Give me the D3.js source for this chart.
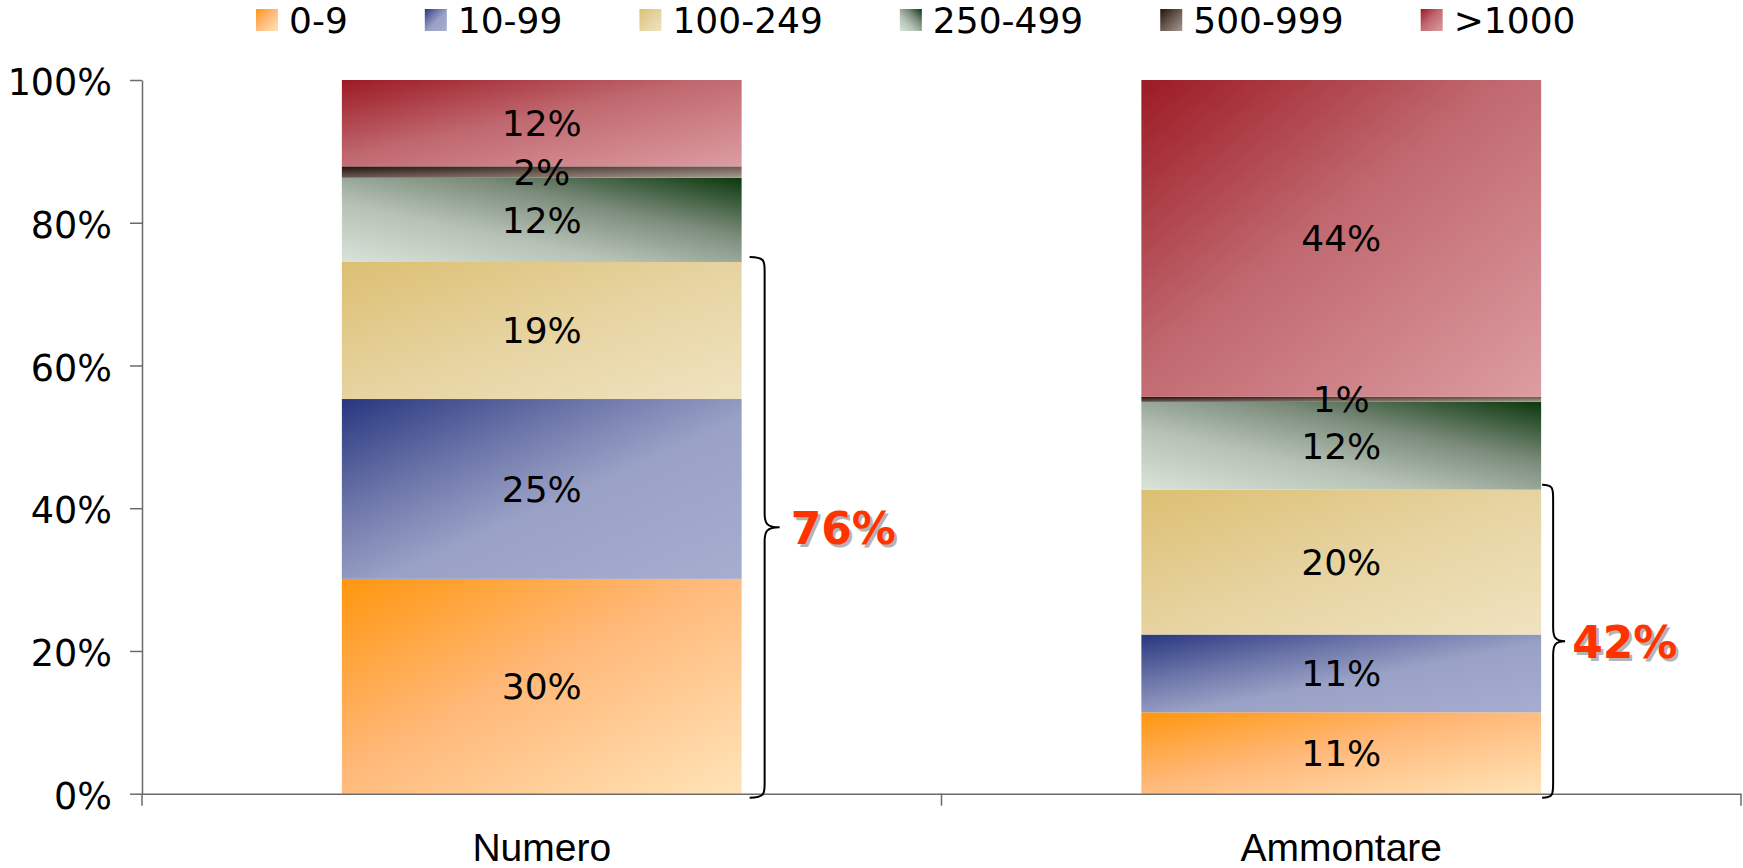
<!DOCTYPE html>
<html>
<head>
<meta charset="utf-8">
<script src="https://cdn.jsdelivr.net/npm/d3@7/dist/d3.min.js"></script>
<style>
  html, body { margin: 0; padding: 0; background: #fff; }
  svg { display: block; }
</style>
</head>
<body>
<svg id="chart" width="1743" height="868"></svg>
<script>
// ---------- data ----------
const categories = ["Numero", "Ammontare"];
const seriesNames = ["0-9", "10-99", "100-249", "250-499", "500-999", ">1000"];
const numeroValues = [30.1, 25.2, 19.2, 11.8, 1.6, 12.1];
const ammontareValues = [11.4, 10.9, 20.3, 12.3, 0.7, 44.4];
const yTicks = [0, 20, 40, 60, 80, 100];
const braceLabels = ["76%", "42%"];
const braceSeriesCount = 3; // brace spans the first three classes

// ---------- build table ----------
const valuesByCat = [numeroValues, ammontareValues];
const rows = categories.map((c, i) => {
  const r = { cat: c };
  seriesNames.forEach((s, j) => r[s] = valuesByCat[i][j]);
  return r;
});
const stacked = d3.stack().keys(seriesNames)(rows);

// ---------- layout ----------
const svg = d3.select("#chart");
const plotLeft = 142, plotRight = 1741, plotTop = 80, plotBottom = 793.7;

const x = d3.scaleBand().domain(categories).range([plotLeft, plotRight])
  .paddingInner(0.5).paddingOuter(0.25);
const y = d3.scaleLinear().domain([0, 100]).range([plotBottom, plotTop]);

// ---------- gradients ----------
const gradDefs = [
  { dir: [0, 0, 1, 1], stops: [[0, "#ff960e"], [0.45, "#ffb878"], [1, "#ffe4b8"]] },
  { dir: [0, 0, 1, 1], stops: [[0, "#27367f"], [0.3, "#6b74a8"], [0.55, "#9aa1c6"], [1, "#a7adcf"]] },
  { dir: [0, 0, 1, 1], stops: [[0, "#dcbf72"], [0.5, "#e6d3a0"], [1, "#efe3c0"]] },
  { dir: [1, 0, 0, 1], stops: [[0, "#0b380b"], [0.35, "#7c8c7c"], [0.65, "#b6c2b6"], [1, "#d9e3d9"]] },
  { dir: [0, 0, 1, 1], stops: [[0, "#24120c"], [0.5, "#6a5a52"], [1, "#a89a90"]] },
  { dir: [0, 0, 1, 1], stops: [[0, "#9c1a24"], [0.45, "#c0686f"], [1, "#dc9da1"]] }
];
const defs = svg.append("defs");
gradDefs.forEach((g, i) => {
  const lg = defs.append("linearGradient").attr("id", "g" + i)
    .attr("x1", g.dir[0]).attr("y1", g.dir[1]).attr("x2", g.dir[2]).attr("y2", g.dir[3]);
  g.stops.forEach(s => lg.append("stop").attr("offset", s[0]).attr("stop-color", s[1]));
});

// ---------- bars ----------
const layers = svg.append("g").selectAll("g").data(stacked).join("g")
  .attr("fill", (d, i) => `url(#g${i})`);
layers.selectAll("rect").data(d => d).join("rect")
  .attr("x", d => x(d.data.cat))
  .attr("width", x.bandwidth())
  .attr("y", d => y(d[1]))
  .attr("height", d => y(d[0]) - y(d[1]));

// ---------- value labels ----------
const labelG = svg.append("g").attr("font-family", "DejaVu Sans, Verdana, sans-serif")
  .attr("font-size", 36).attr("fill", "#000").attr("text-anchor", "middle");
stacked.forEach(layer => {
  layer.forEach(d => {
    const v = d[1] - d[0];
    labelG.append("text")
      .attr("x", x(d.data.cat) + x.bandwidth() / 2)
      .attr("y", (y(d[0]) + y(d[1])) / 2)
      .attr("dy", "0.36em")
      .text(Math.round(v) + "%");
  });
});

// ---------- axes ----------
const axisColor = "#6a6a6a";
const yAxis = svg.append("g").attr("transform", `translate(${plotLeft},0)`)
  .call(d3.axisLeft(y).tickValues(yTicks).tickFormat(d => d + "%").tickSize(12).tickSizeOuter(0).tickPadding(18));
yAxis.select(".domain").attr("stroke", axisColor).attr("stroke-width", 1.5);
yAxis.selectAll(".tick line").attr("stroke", axisColor).attr("stroke-width", 1.5);
yAxis.selectAll(".tick text").attr("font-family", "DejaVu Sans, Verdana, sans-serif")
  .attr("font-size", 36.5).attr("fill", "#000").attr("dy", "0.40em");

const xAxis = svg.append("g").attr("transform", `translate(0,${plotBottom})`)
  .call(d3.axisBottom(x).tickSize(0).tickSizeOuter(0).tickPadding(0));
xAxis.select(".domain").attr("stroke", axisColor).attr("stroke-width", 1.5);
xAxis.selectAll(".tick text").attr("font-family", "Liberation Sans, Arial, sans-serif")
  .attr("font-size", 39).attr("fill", "#000").attr("y", 67).attr("dy", 0);

// category boundary ticks
const step = x.step();
const bounds = [plotLeft].concat(categories.map(c => x(c) + x.bandwidth() + step * x.paddingInner() / 2));
xAxis.selectAll("line.bound").data(bounds).join("line").attr("class", "bound")
  .attr("x1", d => Math.min(d, plotRight)).attr("x2", d => Math.min(d, plotRight))
  .attr("y1", 0).attr("y2", 12)
  .attr("stroke", axisColor).attr("stroke-width", 1.5);

// ---------- braces ----------
const braceLayout = [{ start: 8, line: 23, tip: 38, gap: 11 }, { start: 1, line: 12, tip: 24, gap: 7 }];
function bracePath(x0, x1, x2, yt, ym, yb) {
  const r = 14;
  return `M${x0},${yt} C${x1},${yt} ${x1},${yt + 4} ${x1},${yt + r}` +
    ` L${x1},${ym - r} C${x1},${ym - 4} ${x1 + 2},${ym} ${x2},${ym}` +
    ` C${x1 + 2},${ym} ${x1},${ym + 4} ${x1},${ym + r}` +
    ` L${x1},${yb - r} C${x1},${yb - 4} ${x1},${yb} ${x0},${yb}`;
}
categories.forEach((c, i) => {
  const top3 = stacked[braceSeriesCount - 1][i][1];
  const L = braceLayout[i];
  const bx = x(c) + x.bandwidth();
  const yt = y(top3) - 5, yb = y(0) + 4;
  const ym = (yt + yb) / 2;
  svg.append("path").attr("d", bracePath(bx + L.start, bx + L.line, bx + L.tip, yt, ym, yb))
    .attr("fill", "none").attr("stroke", "#000").attr("stroke-width", 2);
  const tx = bx + L.tip + L.gap;
  svg.append("text").attr("x", tx + 2.5).attr("y", ym + 19.5)
    .attr("font-family", "DejaVu Sans, Verdana, sans-serif").attr("font-weight", "bold")
    .attr("font-size", 44).attr("fill", "#b4b4b4").text(braceLabels[i]);
  svg.append("text").attr("x", tx).attr("y", ym + 17)
    .attr("font-family", "DejaVu Sans, Verdana, sans-serif").attr("font-weight", "bold")
    .attr("font-size", 44).attr("fill", "#ff3300").text(braceLabels[i]);
});

// ---------- legend ----------
const legend = svg.append("g");
let lx = 256;
seriesNames.forEach((s, i) => {
  legend.append("rect").attr("x", lx).attr("y", 9).attr("width", 22).attr("height", 22)
    .attr("fill", `url(#g${i})`);
  const t = legend.append("text").attr("x", lx + 33).attr("y", 33)
    .attr("font-family", "DejaVu Sans, Verdana, sans-serif").attr("font-size", 36)
    .attr("fill", "#000").text(s);
  lx += 33 + t.node().getComputedTextLength() + 77;
});
</script>
</body>
</html>
